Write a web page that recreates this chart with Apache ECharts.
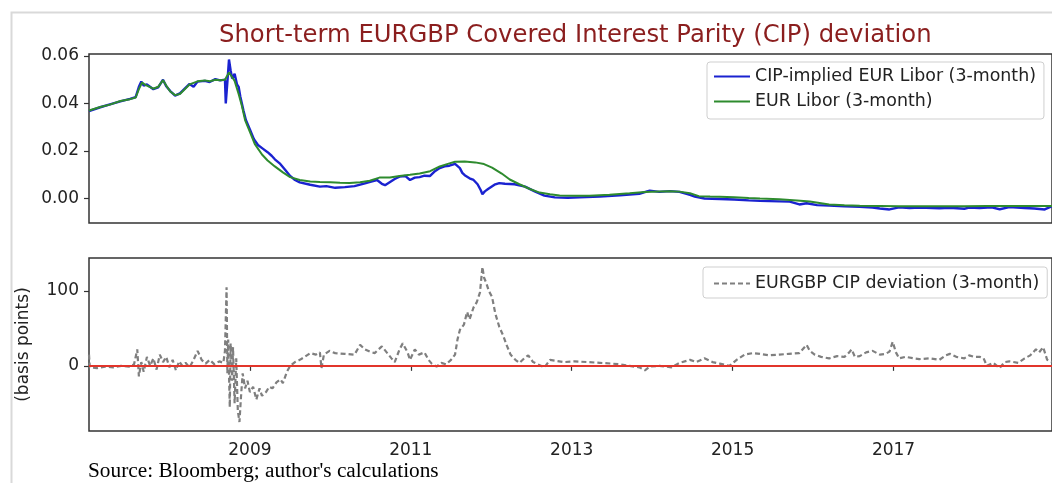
<!DOCTYPE html>
<html>
<head>
<meta charset="utf-8">
<script src="https://cdn.jsdelivr.net/npm/echarts@6/dist/echarts.min.js"></script>
<style>html,body{margin:0;padding:0;background:#fff;}#c{width:1052px;height:483px;}</style>
</head>
<body>
<div id="c"></div>
<script>
var titleText = 'Short-term EURGBP Covered Interest Parity (CIP) deviation';
var sourceText = "Source: Bloomberg; author's calculations";
var seriesNames = ['CIP-implied EUR Libor (3-month)', 'EUR Libor (3-month)', 'EURGBP CIP deviation (3-month)'];
var xTickYears = [2009, 2011, 2013, 2015, 2017];
var topTicks = [0, 0.02, 0.04, 0.06];
var bottomTicks = [0, 100];

// EUR Libor (3-month), [year, rate]
var liborPts = [[2007.00,0.0370],[2007.14,0.0385],[2007.26,0.0395],[2007.39,0.0410],[2007.51,0.0418],[2007.58,0.0425],[2007.62,0.0460],[2007.66,0.0488],[2007.70,0.0478],[2007.80,0.0462],[2007.86,0.0470],[2007.92,0.0498],[2007.96,0.0475],[2008.01,0.0450],[2008.07,0.0435],[2008.13,0.0440],[2008.19,0.0460],[2008.25,0.0480],[2008.35,0.0493],[2008.44,0.0497],[2008.50,0.0493],[2008.57,0.0500],[2008.63,0.0498],[2008.69,0.0500],[2008.74,0.0530],[2008.78,0.0510],[2008.81,0.0495],[2008.86,0.0440],[2008.90,0.0390],[2008.94,0.0330],[2009.00,0.0280],[2009.06,0.0230],[2009.15,0.0185],[2009.22,0.0160],[2009.31,0.0135],[2009.41,0.0110],[2009.50,0.0090],[2009.62,0.0078],[2009.75,0.0072],[2009.87,0.0070],[2010.00,0.0068],[2010.12,0.0066],[2010.24,0.0065],[2010.37,0.0068],[2010.49,0.0075],[2010.61,0.0088],[2010.74,0.0088],[2010.86,0.0095],[2010.99,0.0100],[2011.11,0.0105],[2011.24,0.0115],[2011.36,0.0135],[2011.48,0.0148],[2011.55,0.0155],[2011.67,0.0156],[2011.80,0.0152],[2011.91,0.0145],[2012.01,0.0130],[2012.13,0.0105],[2012.23,0.0080],[2012.35,0.0060],[2012.48,0.0040],[2012.60,0.0025],[2012.73,0.0018],[2012.85,0.0013],[2013.04,0.0012],[2013.22,0.0012],[2013.47,0.0016],[2013.72,0.0022],[2013.91,0.0027],[2014.09,0.0030],[2014.22,0.0031],[2014.34,0.0029],[2014.47,0.0022],[2014.58,0.0010],[2014.72,0.0008],[2014.84,0.0007],[2015.02,0.0005],[2015.20,0.0002],[2015.34,0.0000],[2015.58,-0.0003],[2015.80,-0.0008],[2015.96,-0.0013],[2016.20,-0.0025],[2016.39,-0.0028],[2016.58,-0.0030],[2016.83,-0.0031],[2017.07,-0.0033],[2017.32,-0.0033],[2017.57,-0.0033],[2017.88,-0.0033],[2018.16,-0.0032],[2018.44,-0.0032],[2018.75,-0.0031],[2018.97,-0.0031]];

// CIP-implied EUR Libor (3-month), [year, rate]
var cipPts = [[2007.00,0.0368],[2007.14,0.0384],[2007.26,0.0396],[2007.39,0.0409],[2007.51,0.0419],[2007.58,0.0427],[2007.62,0.0470],[2007.65,0.0492],[2007.68,0.0475],[2007.72,0.0480],[2007.80,0.0460],[2007.86,0.0468],[2007.92,0.0500],[2007.96,0.0472],[2008.01,0.0452],[2008.07,0.0433],[2008.13,0.0442],[2008.19,0.0462],[2008.25,0.0482],[2008.30,0.0470],[2008.35,0.0492],[2008.44,0.0495],[2008.50,0.0490],[2008.57,0.0502],[2008.63,0.0497],[2008.69,0.0500],[2008.70,0.0400],[2008.72,0.0490],[2008.74,0.0585],[2008.76,0.0540],[2008.78,0.0505],[2008.81,0.0525],[2008.84,0.0480],[2008.86,0.0470],[2008.88,0.0430],[2008.92,0.0370],[2008.95,0.0330],[2009.00,0.0290],[2009.05,0.0250],[2009.10,0.0225],[2009.16,0.0210],[2009.22,0.0195],[2009.27,0.0180],[2009.31,0.0165],[2009.37,0.0148],[2009.44,0.0120],[2009.50,0.0095],[2009.56,0.0078],[2009.62,0.0068],[2009.75,0.0058],[2009.87,0.0050],[2009.95,0.0052],[2010.06,0.0045],[2010.18,0.0048],[2010.30,0.0052],[2010.43,0.0064],[2010.52,0.0072],[2010.58,0.0078],[2010.64,0.0062],[2010.68,0.0056],[2010.80,0.0082],[2010.86,0.0092],[2010.93,0.0095],[2010.99,0.0078],[2011.05,0.0088],[2011.11,0.0090],[2011.17,0.0096],[2011.24,0.0095],[2011.30,0.0115],[2011.36,0.0128],[2011.42,0.0135],[2011.48,0.0138],[2011.55,0.0146],[2011.61,0.0128],[2011.64,0.0108],[2011.67,0.0098],[2011.73,0.0085],[2011.78,0.0078],[2011.83,0.0060],[2011.87,0.0035],[2011.89,0.0018],[2011.92,0.0030],[2011.96,0.0040],[2012.04,0.0058],[2012.10,0.0065],[2012.17,0.0062],[2012.29,0.0060],[2012.42,0.0050],[2012.54,0.0030],[2012.66,0.0012],[2012.79,0.0005],[2012.95,0.0003],[2013.10,0.0005],[2013.35,0.0008],[2013.60,0.0014],[2013.84,0.0020],[2013.97,0.0033],[2014.09,0.0028],[2014.22,0.0031],[2014.34,0.0028],[2014.47,0.0015],[2014.53,0.0008],[2014.65,0.0000],[2014.84,-0.0002],[2015.02,-0.0004],[2015.20,-0.0008],[2015.34,-0.0010],[2015.58,-0.0012],[2015.71,-0.0013],[2015.83,-0.0025],[2015.92,-0.0020],[2016.05,-0.0028],[2016.20,-0.0030],[2016.39,-0.0033],[2016.58,-0.0035],[2016.74,-0.0038],[2016.83,-0.0042],[2016.95,-0.0046],[2017.07,-0.0037],[2017.20,-0.0040],[2017.32,-0.0038],[2017.57,-0.0041],[2017.70,-0.0039],[2017.88,-0.0043],[2017.94,-0.0038],[2018.07,-0.0040],[2018.22,-0.0037],[2018.32,-0.0045],[2018.44,-0.0036],[2018.63,-0.0040],[2018.75,-0.0042],[2018.88,-0.0046],[2018.97,-0.0032]];

// EURGBP CIP deviation (3-month), [year, basis points]
var devPts = [[2007.00,15],[2007.01,-2],[2007.10,-3],[2007.20,-1],[2007.30,-2],[2007.40,0],[2007.50,-1],[2007.56,2],[2007.60,22],[2007.62,-14],[2007.65,5],[2007.68,-8],[2007.72,12],[2007.76,0],[2007.80,10],[2007.84,-5],[2007.88,15],[2007.92,5],[2007.96,12],[2008.00,-2],[2008.04,8],[2008.08,-6],[2008.12,6],[2008.16,0],[2008.20,4],[2008.25,-2],[2008.30,8],[2008.35,20],[2008.40,8],[2008.45,3],[2008.50,8],[2008.56,2],[2008.62,6],[2008.67,4],[2008.69,20],[2008.71,105],[2008.72,-10],[2008.73,35],[2008.75,-55],[2008.76,30],[2008.78,-20],[2008.79,25],[2008.81,-50],[2008.83,10],[2008.85,-60],[2008.87,-75],[2008.89,-40],[2008.91,-10],[2008.94,-30],[2008.97,-20],[2009.00,-35],[2009.04,-28],[2009.08,-45],[2009.12,-30],[2009.15,-40],[2009.20,-35],[2009.24,-28],[2009.28,-30],[2009.33,-22],[2009.38,-18],[2009.41,-23],[2009.46,-8],[2009.50,0],[2009.56,5],[2009.62,8],[2009.68,12],[2009.75,17],[2009.82,15],[2009.87,18],[2009.89,-3],[2009.92,15],[2009.99,20],[2010.06,17],[2010.18,16],[2010.30,15],[2010.37,28],[2010.43,22],[2010.49,19],[2010.55,17],[2010.64,26],[2010.70,18],[2010.76,10],[2010.80,5],[2010.86,22],[2010.90,30],[2010.96,18],[2010.99,8],[2011.05,22],[2011.10,15],[2011.17,18],[2011.22,8],[2011.26,3],[2011.32,-1],[2011.38,4],[2011.44,2],[2011.50,8],[2011.55,15],[2011.58,35],[2011.61,48],[2011.66,55],[2011.70,72],[2011.73,62],[2011.78,78],[2011.82,85],[2011.86,98],[2011.89,132],[2011.91,118],[2011.94,110],[2011.97,100],[2012.01,92],[2012.05,70],[2012.10,52],[2012.15,40],[2012.19,28],[2012.24,15],[2012.30,8],[2012.35,4],[2012.41,10],[2012.46,14],[2012.52,5],[2012.58,2],[2012.66,-2],[2012.73,8],[2012.79,7],[2012.90,5],[2013.04,6],[2013.20,5],[2013.35,4],[2013.50,3],[2013.60,2],[2013.72,0],[2013.84,-2],[2013.91,-6],[2013.97,-1],[2014.09,0],[2014.24,-2],[2014.34,4],[2014.47,8],[2014.55,5],[2014.65,10],[2014.75,5],[2014.84,3],[2014.96,0],[2015.05,8],[2015.15,15],[2015.25,17],[2015.34,16],[2015.45,14],[2015.58,15],[2015.70,16],[2015.83,17],[2015.92,28],[2015.96,20],[2016.02,15],[2016.10,12],[2016.20,10],[2016.30,13],[2016.39,12],[2016.45,18],[2016.48,22],[2016.52,12],[2016.58,13],[2016.66,18],[2016.74,20],[2016.83,15],[2016.90,16],[2016.95,19],[2016.99,32],[2017.03,18],[2017.07,10],[2017.15,12],[2017.25,10],[2017.32,9],[2017.45,10],[2017.57,8],[2017.65,14],[2017.70,16],[2017.78,12],[2017.88,10],[2017.94,14],[2018.00,12],[2018.07,12],[2018.12,10],[2018.16,0],[2018.24,4],[2018.32,-3],[2018.38,5],[2018.44,6],[2018.55,4],[2018.63,10],[2018.70,14],[2018.77,22],[2018.81,18],[2018.86,25],[2018.91,8],[2018.97,5]];

var FONT = 'DejaVu Sans';
var chart = echarts.init(document.getElementById('c'), null, {renderer: 'canvas'});

var xBase = {
  type: 'value', min: 2007.0, max: 2018.97,
  splitLine: {show: false}, axisLine: {show: false}
};
var gridBox = {show: true, borderColor: '#333', borderWidth: 1.5, backgroundColor: '#fff'};
var legendText = {fontFamily: FONT, fontSize: 17.4, color: '#222'};

var option = {
  backgroundColor: '#fff',
  animation: false,
  title: {
    text: titleText, left: 214, top: 19,
    textStyle: {fontFamily: FONT, fontSize: 24.3, fontWeight: 'normal', color: '#8b1e1e'}
  },
  graphic: [
    {type: 'rect', left: 9, top: 10, z: -10, shape: {width: 1100, height: 520}, style: {fill: 'none', stroke: '#d9d9d9', lineWidth: 2}},
    {type: 'text', left: 88, top: 461, style: {text: sourceText, font: '21.3px "Liberation Serif"', fill: '#000'}}
  ],
  legend: [
    {
      data: [seriesNames[0], seriesNames[1]], orient: 'vertical', left: 707, top: 62,
      itemWidth: 36, itemHeight: 12, itemGap: 8,
      padding: [6, 8, 9, 6], borderColor: '#cfcfcf', borderWidth: 1, borderRadius: 3,
      backgroundColor: 'rgba(255,255,255,0.8)',
      itemStyle: {opacity: 0},
      textStyle: legendText
    },
    {
      data: [seriesNames[2]], orient: 'vertical', left: 703, top: 267,
      itemWidth: 36, itemHeight: 12,
      padding: [8, 8, 6, 10], borderColor: '#cfcfcf', borderWidth: 1, borderRadius: 3,
      backgroundColor: 'rgba(255,255,255,0.8)',
      itemStyle: {opacity: 0},
      textStyle: legendText
    }
  ],
  grid: [
    Object.assign({left: 89, top: 54, height: 169, right: -1}, gridBox),
    Object.assign({left: 89, top: 258, height: 173, right: -1}, gridBox)
  ],
  xAxis: [
    Object.assign({gridIndex: 0, axisLabel: {show: false}, axisTick: {show: false}}, xBase),
    Object.assign({gridIndex: 1,
      axisLabel: {customValues: xTickYears, margin: 11, fontFamily: FONT, fontSize: 17, color: '#222',
        formatter: function (v) { return String(Math.round(v)); }},
      axisTick: {show: true, customValues: xTickYears, length: 5, lineStyle: {color: '#333', width: 1.2}}
    }, xBase)
  ],
  yAxis: [
    {
      gridIndex: 0, type: 'value', min: -0.0103, max: 0.0608,
      splitLine: {show: false}, axisLine: {show: false},
      axisTick: {show: true, customValues: topTicks, length: 5, lineStyle: {color: '#333', width: 1.2}},
      axisLabel: {customValues: topTicks, margin: 10, fontFamily: FONT, fontSize: 17, color: '#222',
        formatter: function (v) { return v.toFixed(2); }}
    },
    {
      gridIndex: 1, type: 'value', min: -87, max: 144,
      splitLine: {show: false}, axisLine: {show: false},
      name: '(basis points)', nameLocation: 'middle', nameGap: 57, nameRotate: 90,
      nameTextStyle: {fontFamily: FONT, fontSize: 17, color: '#222'},
      axisTick: {show: true, customValues: bottomTicks, length: 5, lineStyle: {color: '#333', width: 1.2}},
      axisLabel: {customValues: bottomTicks, margin: 10, fontFamily: FONT, fontSize: 17, color: '#222'}
    }
  ],
  series: [
    {
      name: seriesNames[0], type: 'line', xAxisIndex: 0, yAxisIndex: 0,
      data: cipPts, symbol: 'none', z: 2,
      lineStyle: {color: '#1a22d0', width: 2.4}, itemStyle: {color: '#1a22d0'}
    },
    {
      name: seriesNames[1], type: 'line', xAxisIndex: 0, yAxisIndex: 0,
      data: liborPts, symbol: 'none', z: 3,
      lineStyle: {color: '#2e8b2e', width: 2}, itemStyle: {color: '#2e8b2e'}
    },
    {
      name: seriesNames[2], type: 'line', xAxisIndex: 1, yAxisIndex: 1,
      data: devPts, symbol: 'none', z: 2,
      lineStyle: {color: '#7f7f7f', width: 2.2, type: [5, 3]}, itemStyle: {color: '#7f7f7f'},
      markLine: {
        silent: true, symbol: 'none', label: {show: false},
        lineStyle: {color: '#e2352b', width: 2, type: 'solid'},
        data: [{yAxis: 0}]
      }
    }
  ]
};
chart.setOption(option);
</script>
</body>
</html>
